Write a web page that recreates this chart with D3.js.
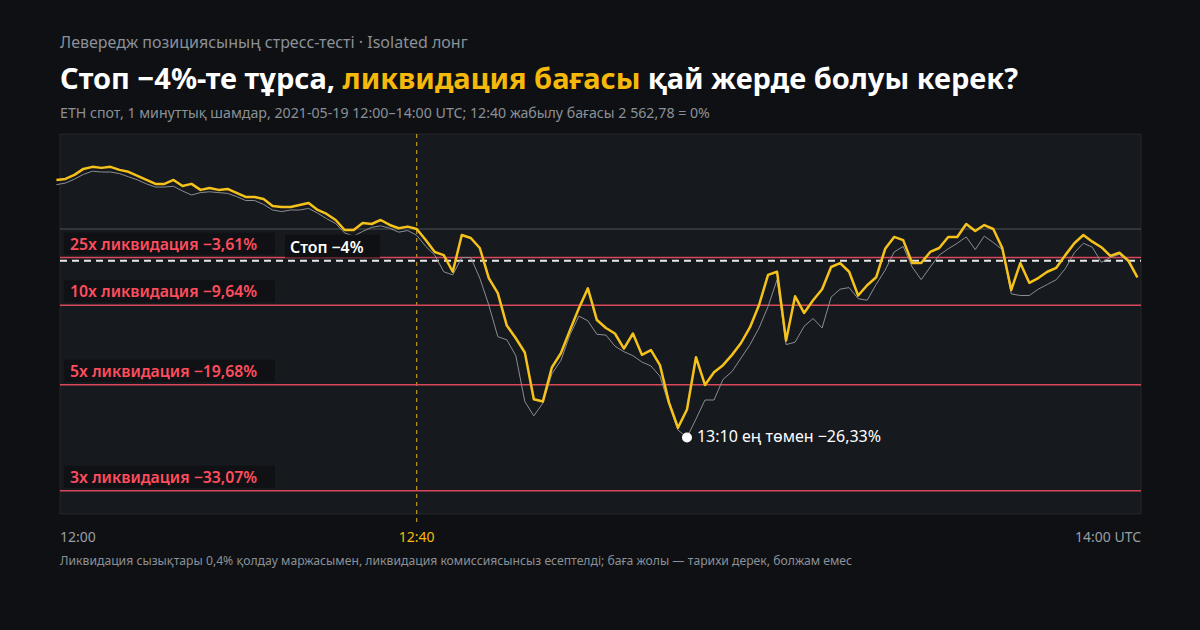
<!DOCTYPE html>
<html><head><meta charset="utf-8">
<script src="https://cdn.jsdelivr.net/npm/d3@7"></script>
<style>
body{margin:0;background:#0e1013;font-family:"Noto Sans",sans-serif;}
</style></head>
<body><div id="chart"></div>
<script>
// minute offsets from 12:00, % change vs 12:40 close
var closePct = [6.2,6.33,6.84,7.59,7.85,7.72,7.85,7.47,7.22,6.71,6.2,5.7,5.7,6.2,5.44,5.7,4.94,5.19,4.94,5.06,
  4.56,4.05,4.05,3.8,2.91,2.78,2.78,3.04,3.29,2.41,1.9,1.14,-0.13,-0.13,0.76,0.63,1.14,0.51,0.1,0.3,
  0,-1.4,-2.9,-3.3,-5.4,-0.76,-1.14,-2.4,-6.2,-8.1,-12.2,-13.8,-15.6,-21.5,-21.8,-17.5,-15.7,-12.8,-10.0,-7.5,
  -11.5,-12.5,-13.2,-15.1,-13.2,-15.9,-15.3,-17.2,-21.9,-25.1,-22.8,-16.2,-19.7,-18.1,-17.2,-15.9,-14.4,-12.4,-9.6,-5.8,
  -5.4,-14.1,-8.5,-10.6,-9.0,-7.6,-4.8,-4.3,-5.4,-8.4,-7.1,-6.1,-2.5,-1.0,-1.4,-4.3,-4.3,-2.9,-2.4,-1.0,
  -1.0,0.63,-0.25,0.5,0,-2.4,-7.7,-4.3,-6.8,-6.2,-5.4,-4.9,-3.3,-1.8,-0.76,-1.6,-2.3,-3.4,-3.0,-4.0,-6.1];
var lowPct = [5.6,5.8,6.3,6.9,7.3,7.2,7.2,7.0,6.6,6.2,5.7,5.3,5.3,5.4,4.8,4.3,4.6,4.7,4.6,4.5,
  4.1,3.6,3.6,3.1,2.4,2.2,2.4,2.4,2.6,2.0,1.3,0.7,-0.5,-0.9,-0.3,0.2,0.4,0.1,-0.4,-0.2,
  -0.8,-2.2,-3.3,-5.4,-5.8,-3.6,-3.6,-6.2,-9.6,-13.6,-14.0,-16.0,-21.8,-23.6,-22.0,-18.3,-16.6,-13.4,-11.0,-11.6,
  -13.3,-13.4,-14.8,-15.5,-16.0,-16.8,-17.3,-18.6,-22.2,-25.4,-26.33,-24.0,-21.6,-21.6,-19.0,-18.0,-16.3,-14.6,-12.5,-9.8,
  -6.4,-14.6,-14.3,-12.3,-11.3,-12.5,-8.6,-7.6,-7.4,-8.8,-9.0,-7.0,-5.2,-2.9,-2.2,-4.8,-6.4,-4.8,-3.3,-2.5,
  -1.8,-1.0,-2.6,-0.9,-1.7,-2.6,-8.2,-8.4,-8.4,-7.6,-7.0,-6.4,-5.0,-3.0,-1.8,-2.3,-4.2,-3.6,-3.2,-4.2,-6.1];
var liqLabels = ["25x ликвидация −3,61%","10x ликвидация −9,64%","5x ликвидация −19,68%","3x ликвидация −33,07%"];
var liqValues = [-3.61,-9.64,-19.68,-33.07];
var stopValue = -4;
var entryMinute = 40;
var lowMinute = 70, lowValue = -26.33;
var tickMinutes = [0,40,120];
var tickLabels = ["12:00","12:40","14:00 UTC"];

var width = 1200, height = 630;
var margin = {top: 134, right: 59, bottom: 116, left: 60};
var visW = width - margin.left - margin.right, visH = height - margin.top - margin.bottom;

var x = d3.scaleLinear().domain([0.4,120.4]).range([0, visW]);
var y = d3.scaleLinear().domain([-36,12]).range([visH, 0]);

var svg = d3.select('#chart').append('svg').attr('width', width).attr('height', height);
svg.append('rect').attr('width', width).attr('height', height).attr('fill', '#0e1013');

svg.append('text').attr('x',60).attr('y',48).attr('fill','#8b9098').attr('font-size','16px')
  .text("Левередж позициясының стресс-тесті · Isolated лонг");
var title = svg.append('text').attr('x',60).attr('y',89).attr('fill','#ffffff')
  .attr('font-size','29px').attr('font-weight','bold');
title.append('tspan').text("Стоп −4%-те тұрса, ");
title.append('tspan').attr('fill','#f5b80b').text("ликвидация бағасы");
title.append('tspan').text(" қай жерде болуы керек?");
svg.append('text').attr('x',60).attr('y',118).attr('fill','#8b9098').attr('font-size','14.2px')
  .text("ETH спот, 1 минуттық шамдар, 2021-05-19 12:00–14:00 UTC; 12:40 жабылу бағасы 2 562,78 = 0%");

var g = svg.append('g').attr('transform', `translate(${margin.left},${margin.top})`);
g.append('rect').attr('width', visW).attr('height', visH).attr('fill','#16191d').attr('stroke','#23262b');

// zero line
g.append('line').attr('x1',0).attr('x2',visW).attr('y1',y(0)).attr('y2',y(0))
  .attr('stroke','#3c3f44').attr('stroke-width',1.5);

// entry vertical
g.append('line').attr('x1',x(entryMinute)).attr('x2',x(entryMinute)).attr('y1',0).attr('y2',visH+10)
  .attr('stroke','#e0b020').attr('stroke-width',1).attr('stroke-dasharray','4,4');

// liquidation lines
liqValues.forEach(function(v){
  g.append('line').attr('x1',0).attr('x2',visW).attr('y1',y(v)).attr('y2',y(v))
    .attr('stroke','#d9485a').attr('stroke-width',1.5);
});
// stop line
g.append('line').attr('x1',0).attr('x2',visW).attr('y1',y(stopValue)).attr('y2',y(stopValue))
  .attr('stroke','#e8e8e8').attr('stroke-width',2).attr('stroke-dasharray','7,5');

var idx = d3.range(closePct.length);
var lineLow = d3.line().x(function(i){ return x(i); }).y(function(i){ return y(lowPct[i]); });
var lineClose = d3.line().x(function(i){ return x(i); }).y(function(i){ return y(closePct[i]); });
g.append('path').datum(idx).attr('d', lineLow).attr('fill','none').attr('stroke','#8a8d92').attr('stroke-width',1);
g.append('path').datum(idx).attr('d', lineClose).attr('fill','none').attr('stroke','#f5c21b')
  .attr('stroke-width',2.5).attr('stroke-linejoin','round');

// liquidation labels
liqValues.forEach(function(v,i){
  var yy = y(v);
  g.append('rect').attr('x',4).attr('y',yy-25).attr('width',211).attr('height',22).attr('fill','#0e1013').attr('opacity',0.85);
  g.append('text').attr('x',10).attr('y',yy-8).attr('fill','#ff4d5e').attr('font-size','15.8px').attr('font-weight','600')
    .text(liqLabels[i]);
});
// stop label
g.append('rect').attr('x',225).attr('y',y(stopValue)-26).attr('width',95).attr('height',23).attr('fill','#0e1013').attr('opacity',0.9);
g.append('text').attr('x',230).attr('y',y(stopValue)-8).attr('fill','#ffffff').attr('font-size','15.8px').attr('font-weight','600')
  .text("Стоп −4%");

// low annotation
g.append('circle').attr('cx',x(lowMinute)).attr('cy',y(lowValue)).attr('r',5).attr('fill','#ffffff');
g.append('text').attr('x',x(lowMinute)+10).attr('y',y(lowValue)+5).attr('fill','#ffffff').attr('font-size','16px')
  .text("13:10 ең төмен −26,33%");

// x ticks
tickMinutes.forEach(function(m,i){
  g.append('text').attr('x', i==0 ? 0 : (i==tickMinutes.length-1 ? visW : x(m))).attr('y',visH+28)
    .attr('text-anchor', i==0 ? 'start' : (i==tickMinutes.length-1 ? 'end' : 'middle'))
    .attr('fill', m==entryMinute ? '#f5b80b' : '#9a9ea5').attr('font-size','14px').text(tickLabels[i]);
});

svg.append('text').attr('x',60).attr('y',565).attr('fill','#8b9098').attr('font-size','12.2px')
  .text("Ликвидация сызықтары 0,4% қолдау маржасымен, ликвидация комиссиясынсыз есептелді; баға жолы — тарихи дерек, болжам емес");
</script></body></html>
